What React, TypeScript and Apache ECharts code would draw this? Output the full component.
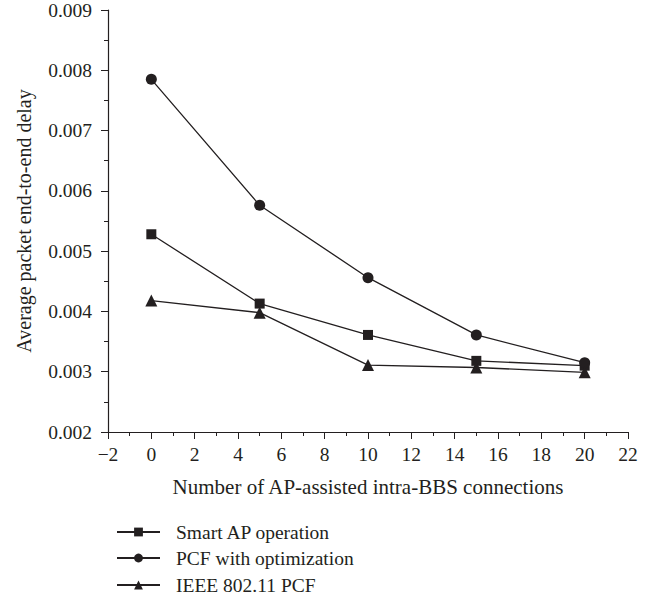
import React, { useEffect, useRef } from "react";
import * as echarts from "echarts";

const xValues = [0, 5, 10, 15, 20];
const smartAP = [0.00528, 0.00413, 0.00361, 0.00318, 0.0031];
const pcfOpt = [0.00785, 0.00576, 0.00456, 0.00361, 0.00315];
const ieeePcf = [0.00418, 0.00398, 0.00311, 0.00307, 0.00299];
const seriesNames = ["Smart AP operation", "PCF with optimization", "IEEE 802.11 PCF"];

const FONT = "'Liberation Serif', 'DejaVu Serif', serif";
const INK = "#231f20";

export default function App() {
  const ref = useRef<HTMLDivElement>(null);
  useEffect(() => {
    document.body.style.margin = "0";
    const chart = echarts.init(ref.current!, null, { renderer: "svg" });
    const pairs = (ys: number[]) => xValues.map((x, i) => [x, ys[i]]);
    const lineStyle = { color: INK, width: 1.3 };
    const legendTops = [517, 543, 570];
    chart.setOption({
      animation: false,
      grid: { left: 108, right: 34, top: 9, bottom: 164 },
      legend: seriesNames.map((n, i) => ({
        orient: "vertical",
        left: 111,
        top: legendTops[i],
        itemWidth: 43,
        itemHeight: 11,
        data: [n],
        textStyle: { fontFamily: FONT, fontSize: 19.5, color: INK, padding: [0, 0, 0, 11] },
      })),
      xAxis: {
        type: "value",
        min: -2,
        max: 22,
        interval: 2,
        name: "Number of AP-assisted intra-BBS connections",
        nameLocation: "middle",
        nameGap: 44,
        nameTextStyle: { fontFamily: FONT, fontSize: 21, color: INK },
        axisLine: { show: true, onZero: false, lineStyle: { color: INK, width: 1.2 } },
        axisTick: { show: true, length: 7, lineStyle: { color: INK } },
        minorTick: { show: true, splitNumber: 2, length: 4, lineStyle: { color: INK } },
        splitLine: { show: false },
        axisLabel: {
          margin: 12,
          fontFamily: FONT,
          fontSize: 19.5,
          color: INK,
          formatter: (v: number) => String(v).replace("-", "\u2212"),
        },
      },
      yAxis: {
        type: "value",
        min: 0.002,
        max: 0.009,
        interval: 0.001,
        name: "Average packet end-to-end delay",
        nameLocation: "middle",
        nameGap: 74,
        nameTextStyle: { fontFamily: FONT, fontSize: 20, color: INK },
        axisLine: { show: true, onZero: false, lineStyle: { color: INK, width: 1.2 } },
        axisTick: { show: true, length: 7, lineStyle: { color: INK } },
        minorTick: { show: true, splitNumber: 2, length: 4, lineStyle: { color: INK } },
        splitLine: { show: false },
        axisLabel: {
          margin: 16,
          fontFamily: FONT,
          fontSize: 19.5,
          color: INK,
          formatter: (v: number) => v.toFixed(3),
        },
      },
      series: [
        {
          name: seriesNames[0],
          type: "line",
          data: pairs(smartAP),
          symbol: "rect",
          symbolSize: 10,
          lineStyle,
          itemStyle: { color: INK },
        },
        {
          name: seriesNames[1],
          type: "line",
          data: pairs(pcfOpt),
          symbol: "circle",
          symbolSize: 11,
          lineStyle,
          itemStyle: { color: INK },
        },
        {
          name: seriesNames[2],
          type: "line",
          data: pairs(ieeePcf),
          symbol: "triangle",
          symbolSize: 12,
          lineStyle,
          itemStyle: { color: INK },
        },
      ],
    });
    return () => chart.dispose();
  }, []);
  return <div ref={ref} style={{ width: 662, height: 596 }} />;
}
